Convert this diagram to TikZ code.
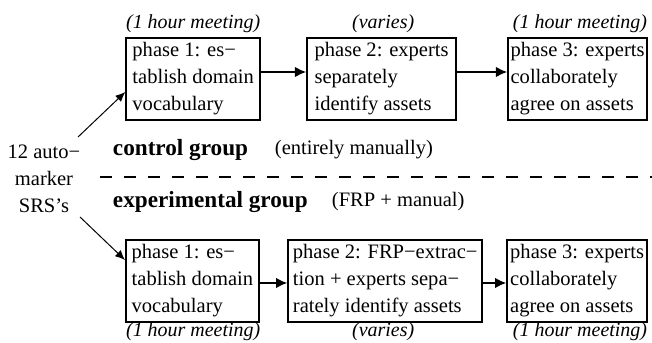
\documentclass[tikz,border=0pt]{standalone}
\usepackage{fontspec}
\setmainfont{Liberation Serif}
\usetikzlibrary{calc}
\usetikzlibrary{arrows.meta}
\tikzstyle{phase}   =[draw, line width=1.3pt, align=left, minimum height=2.05cm, inner sep=0pt, font=\fontsize{14.6}{19.2}\selectfont]
\tikzstyle{duree}   =[font=\fontsize{14.2}{17}\selectfont\itshape]
\tikzstyle{groupe}  =[anchor=west, font=\fontsize{16.5}{20}\selectfont\bfseries]
\tikzstyle{remarque}=[anchor=west, font=\fontsize{14.6}{19.2}\selectfont]
\tikzstyle{fleche}  =[line width=1.2pt, -{Latex[length=8pt,width=7.5pt]}]
\tikzstyle{fleche2} =[line width=0.7pt, -{Latex[length=7pt,width=6pt]}]

\begin{document}
\begin{tikzpicture}
 \useasboundingbox (0,0) rectangle (16.3,8.575);
 % groupe de controle
 \node[phase, minimum width=3.35cm]  (cp1) at (4.83,6.6)  {phase 1: es−\\tablish domain\\vocabulary};
 \node[phase, minimum width=3.725cm] (cp2) at (9.54,6.6)  {phase 2: experts\\separately\\identify assets};
 \node[phase, minimum width=3.475cm] (cp3) at (14.44,6.6) {phase 3: experts\\collaborately\\agree on assets};
 \node[duree] (cd1) at (4.83,7.97)  {(1 hour meeting)};
 \node[duree] (cd2) at (9.58,7.97)  {(varies)};
 \node[duree] (cd3) at (14.5,7.97)  {(1 hour meeting)};
 \draw[fleche] ($(cp1.east)+(0,0.175)$) -- ($(cp2.west)+(0,0.175)$);
 \draw[fleche] ($(cp2.east)+(0,0.175)$) -- ($(cp3.west)+(0,0.175)$);
 % groupe experimental
 \node[phase, minimum width=3.325cm] (ep1) at (4.81,1.55)  {phase 1: es−\\tablish domain\\vocabulary};
 \node[phase, minimum width=4.85cm]  (ep2) at (9.63,1.55)  {phase 2: FRP−extrac−\\tion + experts sepa−\\rately identify assets};
 \node[phase, minimum width=3.5cm]   (ep3) at (14.43,1.55) {phase 3: experts\\collaborately\\agree on assets};
 \node[duree] (ed1) at (4.83,0.27)  {(1 hour meeting)};
 \node[duree] (ed2) at (9.58,0.27)  {(varies)};
 \node[duree] (ed3) at (14.5,0.27)  {(1 hour meeting)};
 \draw[fleche] ($(ep1.east)+(0,-0.05)$) -- ($(ep2.west)+(0,-0.05)$);
 \draw[fleche] ($(ep2.east)+(0,-0.05)$) -- ($(ep3.west)+(0,-0.05)$);
 % les SRS
 \node[align=center, font=\fontsize{14.6}{19.2}\selectfont] (srs) at (1.1,4.1) {12 auto−\\marker\\SRS’s};
 \draw[fleche2] ($(srs.center)+(0.85,1.05)$) -- ($(cp1.west)+(0,-0.325)$);
 \draw[fleche2] ($(srs.center)+(0.9,-0.95)$) -- ($(ep1.west)+(0,0.525)$);
 % les groupes
 \node[groupe]   (cg) at (2.7,4.825)   {control group};
 \node[remarque] (cm) at (6.75,4.825)  {(entirely manually)};
 \node[groupe]   (eg) at (2.7,3.525)   {experimental group};
 \node[remarque] (em) at (8.175,3.525) {(FRP + manual)};
 \coordinate (sepG) at (2.5,4.15);
 \coordinate (sepD) at (16.3,4.15);
 \draw[line width=1.2pt, dash pattern=on 8.5pt off 8.5pt] (sepG) -- (sepD);
\end{tikzpicture}
\end{document}
